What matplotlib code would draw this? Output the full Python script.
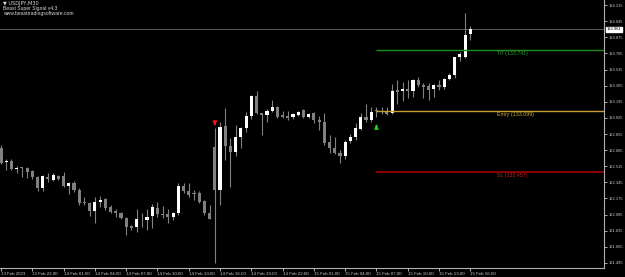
import matplotlib
matplotlib.use("Agg")
import matplotlib.pyplot as plt
import matplotlib.transforms as mtransforms
import numpy as np

plt.rcParams['font.family'] = ['Liberation Sans', 'DejaVu Sans']

# ---- data (USDJPY M30, 13 Feb 19:00 -> 15 Feb 16:00) ----
opens = [132.708, 132.560, 132.570, 132.486, 132.507, 132.497, 132.465, 132.402, 132.286, 132.402,
         132.370, 132.413, 132.413, 132.307, 132.339, 132.265, 132.138, 132.127, 132.043, 132.138,
         132.170, 132.085, 132.043, 132.022, 131.970, 131.885, 131.875, 131.959, 131.949, 131.991,
         132.075, 132.012, 132.012, 131.980, 132.022, 132.307, 132.254, 132.233, 132.233, 132.148,
         132.022, 132.719, 132.265, 132.940, 132.729, 132.666, 132.824, 132.918, 133.045, 133.256,
         133.077, 133.056, 133.098, 133.140, 133.056, 133.045, 133.035, 133.056, 133.108, 133.035,
         133.077, 133.003, 132.982, 132.771, 132.708, 132.655, 132.624, 132.782, 132.824, 132.908,
         133.035, 133.003, 133.098, 133.098, 133.087, 133.077, 133.319, 133.309, 133.330, 133.309,
         133.425, 133.372, 133.361, 133.330, 133.372, 133.351, 133.435, 133.477, 133.667, 133.667,
         133.910]
highs = [132.739, 132.592, 132.592, 132.518, 132.507, 132.507, 132.476, 132.413, 132.423, 132.444,
         132.444, 132.423, 132.455, 132.349, 132.360, 132.286, 132.191, 132.138, 132.191, 132.202,
         132.180, 132.106, 132.064, 132.033, 131.980, 131.896, 132.064, 132.022, 132.064, 132.117,
         132.138, 132.096, 132.064, 132.033, 132.339, 132.339, 132.339, 132.265, 132.254, 132.159,
         132.106, 132.918, 132.981, 133.129, 132.813, 132.950, 132.929, 133.087, 133.267, 133.309,
         133.077, 133.119, 133.214, 133.151, 133.098, 133.098, 133.077, 133.098, 133.119, 133.077,
         133.087, 133.045, 133.077, 132.845, 132.824, 132.687, 132.792, 132.855, 132.971, 133.077,
         133.172, 133.140, 133.140, 133.140, 133.140, 133.382, 133.425, 133.403, 133.425, 133.435,
         133.456, 133.393, 133.393, 133.382, 133.425, 133.446, 133.498, 133.667, 133.720, 134.131,
         133.994]
lows = [132.539, 132.476, 132.476, 132.444, 132.402, 132.391, 132.381, 132.254, 132.254, 132.349,
        132.360, 132.370, 132.296, 132.223, 132.244, 132.106, 132.106, 131.991, 131.917, 132.085,
        132.054, 132.022, 131.980, 131.959, 131.790, 131.843, 131.822, 131.875, 131.843, 131.864,
        131.980, 131.970, 131.917, 131.949, 132.001, 132.233, 132.191, 132.159, 132.127, 132.001,
        131.959, 131.495, 132.106, 132.581, 132.296, 132.624, 132.708, 132.876, 133.013, 133.066,
        132.845, 132.982, 133.087, 133.024, 133.024, 133.003, 133.013, 133.045, 133.024, 133.024,
        132.971, 132.897, 132.739, 132.655, 132.645, 132.549, 132.592, 132.761, 132.792, 132.897,
        132.982, 132.982, 133.035, 133.066, 133.056, 133.066, 133.172, 133.203, 133.235, 133.245,
        133.351, 133.235, 133.214, 133.245, 133.319, 133.330, 133.425, 133.446, 133.625, 133.656,
        133.846]
closes = [132.549, 132.570, 132.486, 132.497, 132.497, 132.455, 132.402, 132.286, 132.413, 132.381,
          132.423, 132.381, 132.307, 132.339, 132.265, 132.127, 132.127, 132.043, 132.138, 132.159,
          132.075, 132.033, 132.022, 131.970, 131.875, 131.864, 131.959, 131.954, 131.980, 132.085,
          132.012, 132.001, 131.980, 132.022, 132.307, 132.254, 132.212, 132.223, 132.138, 132.022,
          131.959, 132.265, 132.929, 132.729, 132.666, 132.824, 132.918, 133.045, 133.256, 133.077,
          133.056, 133.098, 133.140, 133.035, 133.035, 133.024, 133.066, 133.087, 133.035, 133.066,
          133.003, 132.982, 132.761, 132.708, 132.655, 132.624, 132.771, 132.824, 132.918, 133.035,
          133.003, 133.087, 133.094, 133.087, 133.066, 133.309, 133.298, 133.330, 133.309, 133.425,
          133.372, 133.351, 133.319, 133.372, 133.351, 133.435, 133.477, 133.667, 133.698, 133.899,
          133.961]

xtick_pos = [0, 6, 12, 18, 24, 30, 36, 42, 48, 54, 60, 66, 72, 78, 84, 90]
xtick_labels = ['13 Feb 2023', '13 Feb 22:00', '14 Feb 01:00', '14 Feb 04:00', '14 Feb 07:00',
                '14 Feb 10:00', '14 Feb 13:00', '14 Feb 16:00', '14 Feb 19:00', '14 Feb 22:00',
                '15 Feb 01:00', '15 Feb 04:00', '15 Feb 07:00', '15 Feb 10:00', '15 Feb 13:00',
                '15 Feb 16:00']
ytick_vals = [134.215, 134.045, 133.875, 133.705, 133.535, 133.365, 133.195, 133.025,
              132.855, 132.685, 132.515, 132.345, 132.175, 132.005, 131.835, 131.665, 131.495]

tp_price = 133.741
entry_price = 133.099
sl_price = 132.457
signal_start = 72
sell_arrow_bar = 41
buy_arrow_bar = 72
current_price = 133.961

# ---- figure ----
W, H = 625, 277
fig = plt.figure(figsize=(W / 100, H / 100), dpi=100, facecolor='black')
ax = fig.add_axes([0, 9 / H, 604 / W, 268 / H], facecolor='black')

n = len(opens)
x = np.arange(n)
o = np.array(opens); c = np.array(closes); h = np.array(highs); l = np.array(lows)
bull = c >= o
wick_col = '#808080'
ax.vlines(x, l, h, color=wick_col, linewidth=0.8, zorder=2)
bottoms = np.minimum(o, c)
heights = np.maximum(np.abs(c - o), 0.009)
cols = np.where(bull, '#ffffff', '#808080')
ax.bar(x, heights, bottom=bottoms, width=0.6, color=cols, linewidth=0, zorder=3)

ax.set_xlim(-1 / 5.215, 603 / 5.215)
ax.set_ylim(131.442, 134.268)

# current price line
ax.axhline(current_price, color='#6a6a6a', linewidth=0.6, zorder=1)

# signal lines
xr = ax.get_xlim()[1]
ax.hlines(tp_price, signal_start, xr, color='#1e8c1e', linewidth=1.0, zorder=4)
ax.hlines(entry_price, signal_start, xr, color='#c8a030', linewidth=1.0, zorder=4)
ax.hlines(sl_price, signal_start, xr, color='#a00000', linewidth=1.2, zorder=4)
txt_x = 95.1
ax.text(txt_x, tp_price - 0.012, f'TP ({tp_price:.3f})', color='#2a9a2a', fontsize=3.8,
        va='top', ha='left')
ax.text(txt_x, entry_price - 0.012, f'Entry ({entry_price:.3f})', color='#c8a830', fontsize=3.8,
        va='top', ha='left')
ax.text(txt_x, sl_price - 0.012, f'SL ({sl_price:.3f})', color='#c02020', fontsize=3.8,
        va='top', ha='left')

# arrows
ax.annotate('', xy=(sell_arrow_bar, highs[sell_arrow_bar] - 0.005),
            xytext=(sell_arrow_bar, highs[sell_arrow_bar] + 0.075),
            arrowprops=dict(arrowstyle='-|>', color='#ff1010', lw=1.2, mutation_scale=5), zorder=6)
ax.annotate('', xy=(buy_arrow_bar, lows[buy_arrow_bar] - 0.05),
            xytext=(buy_arrow_bar, lows[buy_arrow_bar] - 0.125),
            arrowprops=dict(arrowstyle='-|>', color='#20d020', lw=1.2, mutation_scale=5), zorder=6)

# axes styling
for s in ['left', 'top']:
    ax.spines[s].set_visible(False)
for s in ['right', 'bottom']:
    ax.spines[s].set_color('#b0b0b0')
    ax.spines[s].set_linewidth(0.8)
ax.yaxis.tick_right()
ax.set_yticks(ytick_vals)
ax.set_yticklabels([f'{v:.3f}' for v in ytick_vals])
ax.tick_params(axis='y', colors='#c8c8c8', labelsize=2.9, length=2, width=0.6, pad=1.2)
ax.set_xticks(xtick_pos)
ax.set_xticklabels(xtick_labels, ha='left')
ax.tick_params(axis='x', colors='#c8c8c8', labelsize=3.2, length=2, width=0.6, pad=1.2)

# current price label
trans = mtransforms.blended_transform_factory(ax.transAxes, ax.transData)
ax.text(1.004, current_price, f'{current_price:.3f}', transform=trans, fontsize=2.9,
        color='black', va='center', ha='left', clip_on=False,
        bbox=dict(boxstyle='square,pad=0.12', facecolor='white', edgecolor='white'), zorder=10)

# header text
fig.text(3 / W, 1 - 3 / H, '\u25BC USDJPY,M30', color='#d8d8d8', fontsize=3.6,
         va='center', ha='left', family=['DejaVu Sans'])
fig.text(3 / W, 1 - 8.5 / H, 'Beast Super Signal v4.3', color='#d8d8d8', fontsize=3.6,
         va='center', ha='left')
fig.text(3 / W, 1 - 14 / H, 'www.beasttradingsoftware.com', color='#d8d8d8', fontsize=3.6,
         va='center', ha='left')

fig.savefig('out.png', dpi=100, facecolor='black')
